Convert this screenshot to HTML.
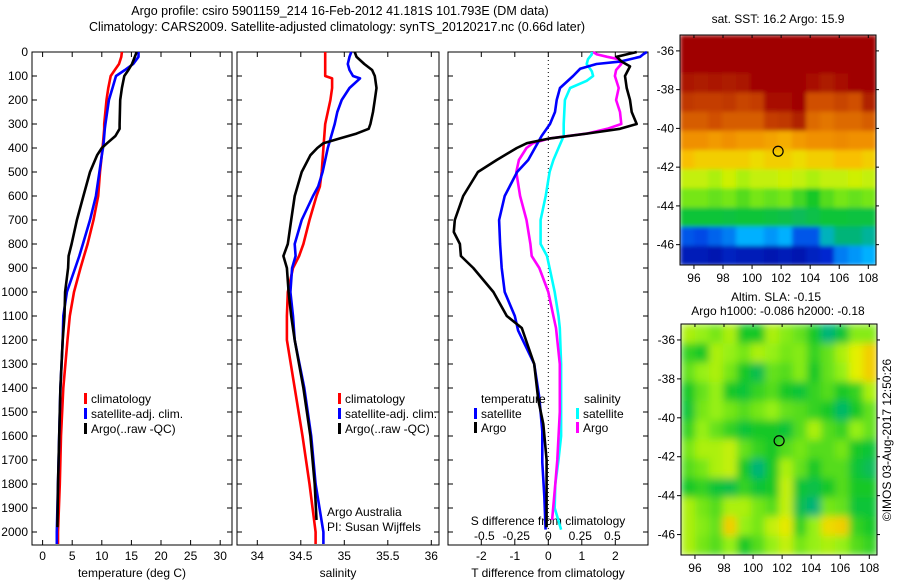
<!DOCTYPE html>
<html><head><meta charset="utf-8">
<style>
html,body{margin:0;padding:0;background:#fff;}
svg{display:block;font-family:"Liberation Sans",sans-serif;}
</style></head>
<body>
<svg id="chart" width="900" height="580" viewBox="0 0 900 580" xmlns="http://www.w3.org/2000/svg">
<defs>
<filter id="blurTop" x="0" y="0" width="1" height="1"><feGaussianBlur stdDeviation="2" edgeMode="duplicate"/></filter>
<filter id="blurBot" x="0" y="0" width="1" height="1"><feGaussianBlur stdDeviation="4" edgeMode="duplicate"/></filter>
<clipPath id="clipTop"><rect x="680" y="35" width="196" height="230"/></clipPath>
<clipPath id="clipBot"><rect x="681" y="324" width="196" height="231"/></clipPath>
</defs>
<text x="340" y="15" font-size="12.5" text-anchor="middle">Argo profile: csiro 5901159_214 16-Feb-2012 41.181S 101.793E (DM data)</text>
<text x="337" y="31" font-size="12.5" text-anchor="middle">Climatology: CARS2009. Satellite-adjusted climatology: synTS_20120217.nc (0.66d later)</text>
<g id="g"></g>
</svg>
<script>
// ---- data ----
const depthT = [0,20,50,75,100,150,200,300,320,350,380,400,430,500,600,700,800,850,900,1000,1100,1200,1400,1600,1800,2000,2050];
const tempClim = [13.4,13.3,12.9,12.2,11.5,11.1,10.8,10.4,10.4,10.3,10.2,10.1,10.0,9.7,9.4,8.6,7.6,7.0,6.4,5.3,4.6,4.2,3.5,3.1,2.9,2.6,2.6];
const tempSat  = [16.2,16.2,15.3,13.9,12.4,11.8,11.2,10.6,10.5,10.4,10.3,10.2,10.0,9.6,9.0,8.0,6.8,6.2,5.5,4.1,3.5,3.4,3.0,2.8,2.6,2.4,2.4];
const depthArgoT = [0,50,75,100,150,200,300,320,350,380,400,430,500,600,700,800,850,900,1000,1100,1200,1400,1600,1800,1980];
const tempArgo = [15.9,15.1,14.5,13.8,13.4,13.1,13.0,13.0,12.3,10.9,10.0,9.2,8.0,6.9,5.8,4.9,4.4,4.3,3.8,3.7,3.4,3.0,2.8,2.6,2.5];

const depthS = [0,20,50,75,100,110,150,200,250,300,400,500,560,600,700,800,850,900,1000,1100,1200,1400,1600,1800,2000,2050];
const salClim = [34.78,34.78,34.78,34.78,34.78,34.86,34.86,34.84,34.81,34.78,34.76,34.74,34.72,34.68,34.60,34.53,34.48,34.41,34.35,34.34,34.34,34.43,34.52,34.60,34.67,34.67];
const salSat  = [35.08,35.06,35.04,35.06,35.10,35.18,35.06,34.97,34.92,34.89,34.81,34.75,34.70,34.64,34.51,34.43,34.44,34.40,34.38,34.41,34.43,34.54,34.62,34.67,34.76,34.76];
const depthArgoS = [0,20,50,75,100,150,200,250,300,320,340,360,380,400,430,500,600,700,800,850,900,1000,1100,1200,1400,1600,1800,1950];
const salArgo = [35.12,35.14,35.23,35.32,35.35,35.37,35.35,35.33,35.30,35.28,35.14,34.95,34.76,34.69,34.61,34.51,34.43,34.39,34.35,34.30,34.34,34.36,34.39,34.43,34.53,34.61,34.66,34.68];

const depthDT = [0,10,20,40,50,70,100,150,200,250,300,350,400,450,500,600,700,800,900,1000,1100,1160,1300,1440,1580,1710,1850,1990];
const dTsat = [2.94,2.83,2.74,2.14,1.44,0.95,0.74,0.35,0.25,0.20,0.05,-0.20,-0.40,-0.60,-0.93,-1.30,-1.47,-1.44,-1.39,-1.30,-1.00,-0.90,-0.42,-0.27,-0.18,-0.18,-0.12,-0.08];
const depthDTA = [0,10,20,40,60,100,150,200,250,300,320,340,360,380,400,450,500,600,700,750,800,850,900,1000,1100,1150,1300,1450,1550,1700,1900,1980];
const dTargo = [2.64,2.34,2.04,2.19,2.44,2.29,2.34,2.44,2.49,2.64,2.14,1.15,0.05,-0.64,-0.94,-1.54,-2.10,-2.54,-2.79,-2.82,-2.64,-2.61,-2.24,-1.64,-1.24,-0.79,-0.42,-0.30,-0.15,-0.05,-0.05,-0.05];
const depthDS = [0,10,30,50,80,100,120,150,200,300,350,400,450,500,600,700,800,850,900,1000,1100,1150,1300,1600,1700,1800,1900,1990];
const dSsat = [0.34,0.34,0.31,0.30,0.34,0.35,0.30,0.17,0.13,0.12,0.12,0.08,0.04,0.01,-0.02,-0.06,-0.06,-0.01,0.01,0.05,0.08,0.09,0.10,0.10,0.08,0.055,0.05,0.10];
const depthDSA = [0,10,20,30,50,75,100,150,200,250,300,320,340,360,380,400,450,500,600,700,800,850,900,1000,1100,1150,1300,1500,1700,1800,1950];
const dSargo = [0.35,0.38,0.46,0.55,0.57,0.53,0.52,0.55,0.53,0.56,0.57,0.46,0.30,0.01,-0.12,-0.17,-0.23,-0.25,-0.22,-0.17,-0.14,-0.13,-0.07,0.00,0.04,0.06,0.09,0.09,0.07,0.055,0.03];

const depthTicks = [0,100,200,300,400,500,600,700,800,900,1000,1100,1200,1300,1400,1500,1600,1700,1800,1900,2000];
const tempTicks = [0,5,10,15,20,25,30];
const salTicks = [34,34.5,35,35.5,36];
const dTTicks = [-2,-1,0,1,2];
const dSTicks = [-0.5,-0.25,0,0.25,0.5];
const lonTicks = [96,98,100,102,104,106,108];
const latTicks = [-36,-38,-40,-42,-44,-46];

const sstGrid = [
[1,1,1,1,1,1,1,1,1,1,1,1,1,1],
[1,1,1,1,1,1,1,1,1,1,1,1,1,1],
[0.93,0.92,0.93,0.92,0.94,1,1,1,1,0.95,0.92,0.95,1,1],
[0.86,0.85,0.85,0.86,0.84,0.85,0.95,0.95,1,0.82,0.82,0.84,0.82,0.9],
[0.8,0.8,0.82,0.8,0.8,0.8,0.85,0.86,0.9,0.78,0.76,0.78,0.78,0.8],
[0.72,0.72,0.7,0.72,0.7,0.7,0.68,0.66,0.7,0.72,0.72,0.73,0.72,0.72],
[0.62,0.6,0.6,0.6,0.6,0.58,0.6,0.6,0.58,0.6,0.6,0.62,0.62,0.6],
[0.52,0.52,0.5,0.53,0.5,0.52,0.52,0.53,0.52,0.5,0.52,0.52,0.53,0.52],
[0.46,0.46,0.45,0.46,0.44,0.46,0.45,0.46,0.43,0.4,0.44,0.46,0.45,0.46],
[0.38,0.38,0.38,0.37,0.38,0.38,0.37,0.36,0.34,0.36,0.38,0.38,0.37,0.37],
[0.15,0.14,0.16,0.18,0.22,0.22,0.2,0.22,0.15,0.15,0.26,0.3,0.3,0.28],
[0.07,0.07,0.06,0.08,0.07,0.07,0.06,0.07,0.06,0.08,0.1,0.18,0.2,0.22]];
const slaGrid = [
[0.5,0.48,0.46,0.5,0.4,0.4,0.5,0.47,0.45,0.4,0.3,0.38,0.47,0.47],
[0.42,0.4,0.5,0.48,0.46,0.5,0.48,0.46,0.47,0.42,0.45,0.5,0.55,0.6],
[0.45,0.48,0.5,0.46,0.4,0.35,0.45,0.44,0.47,0.4,0.45,0.48,0.55,0.6],
[0.4,0.45,0.48,0.4,0.38,0.42,0.44,0.4,0.38,0.42,0.44,0.4,0.42,0.5],
[0.38,0.46,0.48,0.46,0.44,0.46,0.48,0.45,0.44,0.42,0.4,0.32,0.4,0.45],
[0.42,0.48,0.45,0.42,0.38,0.4,0.4,0.38,0.44,0.5,0.44,0.42,0.48,0.45],
[0.46,0.5,0.5,0.52,0.45,0.42,0.4,0.44,0.46,0.44,0.44,0.46,0.4,0.38],
[0.44,0.46,0.5,0.52,0.4,0.3,0.4,0.5,0.45,0.4,0.44,0.44,0.38,0.34],
[0.4,0.42,0.38,0.36,0.42,0.38,0.4,0.52,0.38,0.36,0.4,0.44,0.4,0.4],
[0.5,0.46,0.44,0.5,0.5,0.46,0.44,0.52,0.35,0.3,0.46,0.45,0.38,0.38],
[0.5,0.47,0.45,0.6,0.48,0.46,0.52,0.56,0.42,0.48,0.58,0.6,0.42,0.4],
[0.5,0.46,0.44,0.48,0.4,0.44,0.48,0.52,0.46,0.48,0.5,0.48,0.44,0.42]];
const argoLon = 101.793, argoLat = -41.181;

// ---- scales ----
const yD = d => 52 + 0.24*d;
const xT = t => 42.6 + 5.92*t;
const xS = s => 257.3 + 87*(s-34);
const xDT = t => 548.3 + 33.5*t;
const xDS = s => 548.3 + 128*s;
const LON0=95.04, LON1=108.53, LAT0=-35.18, LAT1=-47.05;
const mapTop = {x0:680,x1:876,y0:35,y1:265};
const mapBot = {x0:681,x1:877,y0:324,y1:555};
const mx = (m,lon) => m.x0 + (lon-LON0)/(LON1-LON0)*(m.x1-m.x0);
const my = (m,lat) => m.y0 + (lat-LAT0)/(LAT1-LAT0)*(m.y1-m.y0);

const NS="http://www.w3.org/2000/svg";
const root=document.getElementById('g');
function mk(tag,attrs,parent){const e=document.createElementNS(NS,tag);for(const k in attrs)e.setAttribute(k,attrs[k]);(parent||root).appendChild(e);return e;}
function txt(x,y,s,size,anchor){const e=mk('text',{x:x,y:y,'font-size':size||12,'text-anchor':anchor||'middle'});e.textContent=s;return e;}

// panels
const panels=[{x0:32,x1:232},{x0:237,x1:439},{x0:448,x1:648}];
panels.forEach((p,i)=>{
  const r=mk('rect',{x:p.x0,y:52,width:p.x1-p.x0,height:493,fill:'none',stroke:'#000','stroke-width':1});
  
  
  depthTicks.forEach(d=>{
    mk('line',{x1:p.x0,x2:p.x0+5,y1:yD(d),y2:yD(d),stroke:'#000'});
    mk('line',{x1:p.x1-5,x2:p.x1,y1:yD(d),y2:yD(d),stroke:'#000'});
  });
});
depthTicks.forEach(d=>{
  const t=txt(28,yD(d)+4,String(d),12,'end');
  
  
});
function xticks(vals,fx,lab){
  vals.forEach(v=>{
    mk('line',{x1:fx(v),x2:fx(v),y1:52,y2:57,stroke:'#000'});
    mk('line',{x1:fx(v),x2:fx(v),y1:540,y2:545,stroke:'#000'});
    const t=txt(fx(v),560,String(v),12);
    
    
  });
}
xticks(tempTicks,xT,'temperature-tick-label');
xticks(salTicks,xS,'salinity-tick-label');
xticks(dTTicks,xDT,'t-diff-tick-label');
let a;
a=txt(132,577,'temperature (deg C)',12);
a=txt(338,577,'salinity',12);
a=txt(548,577,'T difference from climatology',12);
a=txt(548,525,'S difference from climatology',12);
dSTicks.forEach(v=>{const t=txt(xDS(v),540,String(v),12);
  
  });
a=mk('line',{x1:xDT(0),x2:xDT(0),y1:52,y2:545,stroke:'#000','stroke-dasharray':'1,3'});


function series(xs,ds,fx,color,name){
  const pts=xs.map((v,i)=>fx(v).toFixed(1)+','+yD(ds[i]).toFixed(1)).join(' ');
  const l=mk('polyline',{points:pts,fill:'none',stroke:color,'stroke-width':2.6,'stroke-linejoin':'round'});
  
  
}
series(tempClim,depthT,xT,'#ff0000','temp-climatology-line');
series(tempSat,depthT,xT,'#0000ff','temp-satellite-line');
series(tempArgo,depthArgoT,xT,'#000000','temp-argo-line');
series(salClim,depthS,xS,'#ff0000','sal-climatology-line');
series(salSat,depthS,xS,'#0000ff','sal-satellite-line');
series(salArgo,depthArgoS,xS,'#000000','sal-argo-line');
series(dSsat,depthDS,xDS,'#00ffff','s-diff-satellite-line');
series(dSargo,depthDSA,xDS,'#ff00ff','s-diff-argo-line');
series(dTsat,depthDT,xDT,'#0000ff','t-diff-satellite-line');
series(dTargo,depthDTA,xDT,'#000000','t-diff-argo-line');

function legend(x,y,color,label){
  const r=mk('rect',{x:x,y:y-10,width:3,height:11,fill:color});
  
  const t=txt(x+7,y,label,12,'start');
  
}
[[84,'#ff0000','climatology'],[84,'#0000ff','satellite-adj. clim.'],[84,'#000000','Argo(..raw -QC)']].forEach((e,i)=>legend(e[0],403+i*15,e[1],e[2]));
[[338,'#ff0000','climatology'],[338,'#0000ff','satellite-adj. clim.'],[338,'#000000','Argo(..raw -QC)']].forEach((e,i)=>legend(e[0],403+i*15,e[1],e[2]));
a=txt(481,403,'temperature',12,'start');
a=txt(584,403,'salinity',12,'start');
legend(474,418,'#0000ff','satellite');legend(474,432,'#000000','Argo');
legend(576,418,'#00ffff','satellite');legend(576,432,'#ff00ff','Argo');
a=txt(327,516,'Argo Australia',12,'start');
a=txt(327,531,'PI: Susan Wijffels',12,'start');

// colormap
const stops=[[0,[0,0,128]],[0.12,[0,48,224]],[0.22,[0,176,255]],[0.3,[0,180,120]],[0.4,[20,200,40]],[0.48,[150,240,20]],[0.55,[228,240,0]],[0.62,[248,192,0]],[0.72,[240,144,0]],[0.82,[208,80,0]],[0.9,[176,32,0]],[1,[160,0,0]]];
function cmap(v){for(let i=1;i<stops.length;i++){if(v<=stops[i][0]){const a=stops[i-1],b=stops[i];const f=(v-a[0])/(b[0]-a[0]);const c=a[1].map((x,k)=>Math.round(x+(b[1][k]-x)*f));return 'rgb('+c.join(',')+')';}}return 'rgb(160,0,0)';}

function drawMap(m,grid,filt,clip,name){
  const outer=mk('g',{'clip-path':'url(#'+clip+')'});
  
  const g=mk('g',{filter:'url(#'+filt+')'},outer);
  const rows=grid.length, cols=grid[0].length;
  const dLon=(LON1-LON0)/cols, dLat=(LAT1-LAT0)/rows;
  grid.forEach((row,ri)=>row.forEach((v,ci)=>{
    const x=mx(m,LON0+ci*dLon), y=my(m,LAT0+ri*dLat);
    const c=mk('rect',{x:x.toFixed(1),y:y.toFixed(1),width:(mx(m,LON0+(ci+1)*dLon)-x+0.6).toFixed(1),height:(my(m,LAT0+(ri+1)*dLat)-y+0.6).toFixed(1),fill:cmap(v)},g);
    
    
  }));
  const f=mk('rect',{x:m.x0,y:m.y0,width:m.x1-m.x0,height:m.y1-m.y0,fill:'none',stroke:'#000'});
  
  lonTicks.forEach(l=>{mk('line',{x1:mx(m,l),x2:mx(m,l),y1:m.y1,y2:m.y1+4,stroke:'#000'});
    mk('line',{x1:mx(m,l),x2:mx(m,l),y1:m.y0,y2:m.y0+3,stroke:'#000'});
    const t=txt(mx(m,l),m.y1+17,String(l),12);});
  latTicks.forEach(l=>{mk('line',{x1:m.x0-4,x2:m.x0,y1:my(m,l),y2:my(m,l),stroke:'#000'});
    mk('line',{x1:m.x1,x2:m.x1+3,y1:my(m,l),y2:my(m,l),stroke:'#000'});
    const t=txt(m.x0-6,my(m,l)+4,String(l),12,'end');});
  const c=mk('circle',{cx:mx(m,argoLon),cy:my(m,argoLat),r:5,fill:'none',stroke:'#000','stroke-width':1.2});
  
}
drawMap(mapTop,sstGrid,'blurTop','clipTop','sst-map');
drawMap(mapBot,slaGrid,'blurBot','clipBot','sla-map');
a=txt(778,23,'sat. SST: 16.2 Argo: 15.9',12);
a=txt(776,301,'Altim. SLA: -0.15',12);
a=txt(778,315,'Argo h1000: -0.086 h2000: -0.18',12);
a=txt(0,0,'©IMOS 03-Aug-2017 12:50:26',12);a.setAttribute('transform','translate(891,440) rotate(-90)');

</script>
</body></html>
